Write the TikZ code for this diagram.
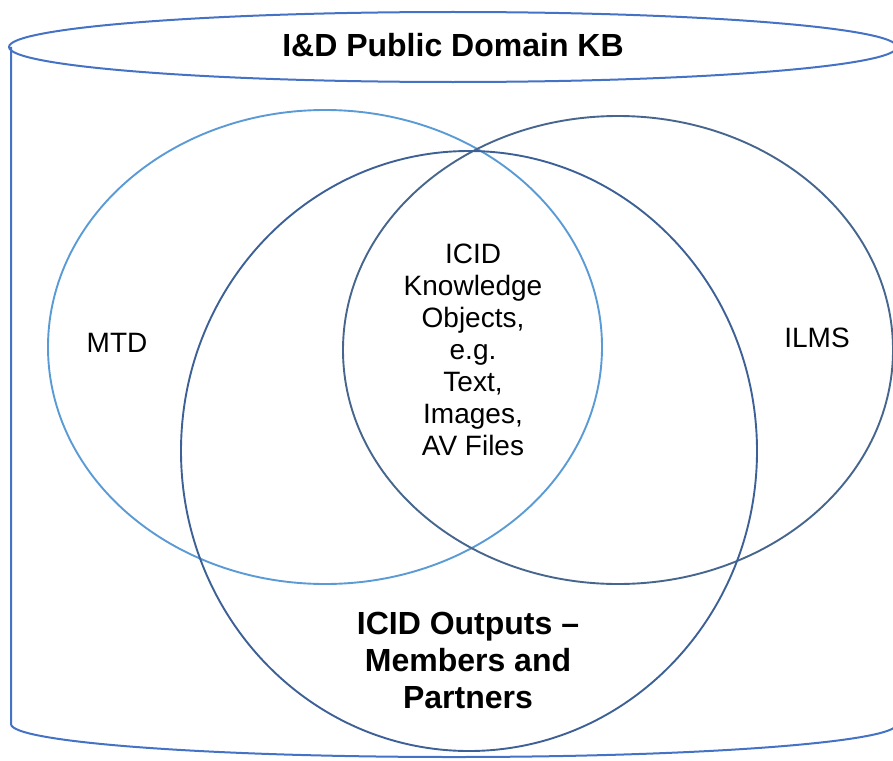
\documentclass[tikz,border=0pt]{standalone}
\usepackage{fontspec}
\setmainfont{Liberation Sans}
\begin{document}
\begin{tikzpicture}[x=1pt,y=-1pt]
  \definecolor{kCyl}{HTML}{4472C4}
  \definecolor{kMtd}{HTML}{5B9BD5}
  \definecolor{kIlms}{HTML}{46668E}
  \definecolor{kOut}{HTML}{3D6096}

  \useasboundingbox (0,0) rectangle (893,760);
  \clip (0,0) rectangle (893,760);

  % cylinder
  \draw[color=kCyl,line width=2pt] (11,47) -- (11,724)
    arc[start angle=180,end angle=0,x radius=443,y radius=33] -- (897,47);
  \draw[color=kCyl,line width=2pt] (453,47) ellipse [x radius=444,y radius=35];

  % sets
  \foreach \cx/\cy/\rx/\ry/\col in {
                                    325/347/277/237/kMtd,
                                    618/350/275/234/kIlms,
                                    469/451/288/300/kOut}
  {
    \draw[color=\col,line width=1.9pt] (\cx,\cy) ellipse [x radius=\rx,y radius=\ry];
  }

  % labels
  \node[inner sep=0,font=\bfseries\fontsize{32}{37}\selectfont] (kb) at (453,45) {I\&D Public Domain KB};
  \node[inner sep=0,font=\fontsize{28}{32}\selectfont] (mtd) at (117,343) {MTD};
  \node[inner sep=0,font=\fontsize{28}{32}\selectfont] (ilms) at (817,338) {ILMS};
  \node[inner sep=0,align=center,font=\fontsize{28}{32}\selectfont] (objects) at (473,350)
    {ICID\\Knowledge\\Objects,\\e.g.\\Text,\\Images,\\AV Files};
  \node[inner sep=0,align=center,font=\bfseries\fontsize{32}{37}\selectfont] (outputs) at (468,660)
    {ICID Outputs –\\Members and\\Partners};
\end{tikzpicture}
\end{document}
